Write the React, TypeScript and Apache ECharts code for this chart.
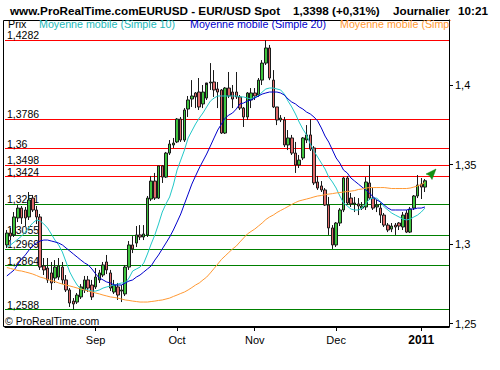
import React, { useEffect, useRef } from "react";
import * as echarts from "echarts";

const dates = [
  "2010-07-29", "2010-07-30",
  "2010-08-02", "2010-08-03", "2010-08-04", "2010-08-05", "2010-08-06",
  "2010-08-09", "2010-08-10", "2010-08-11", "2010-08-12", "2010-08-13",
  "2010-08-16", "2010-08-17", "2010-08-18", "2010-08-19", "2010-08-20",
  "2010-08-23", "2010-08-24", "2010-08-25", "2010-08-26", "2010-08-27",
  "2010-08-30", "2010-08-31",
  "2010-09-01", "2010-09-02", "2010-09-03",
  "2010-09-06", "2010-09-07", "2010-09-08", "2010-09-09", "2010-09-10",
  "2010-09-13", "2010-09-14", "2010-09-15", "2010-09-16", "2010-09-17",
  "2010-09-20", "2010-09-21", "2010-09-22", "2010-09-23", "2010-09-24",
  "2010-09-27", "2010-09-28", "2010-09-29", "2010-09-30",
  "2010-10-01",
  "2010-10-04", "2010-10-05", "2010-10-06", "2010-10-07", "2010-10-08",
  "2010-10-11", "2010-10-12", "2010-10-13", "2010-10-14", "2010-10-15",
  "2010-10-18", "2010-10-19", "2010-10-20", "2010-10-21", "2010-10-22",
  "2010-10-25", "2010-10-26", "2010-10-27", "2010-10-28", "2010-10-29",
  "2010-11-01", "2010-11-02", "2010-11-03", "2010-11-04", "2010-11-05",
  "2010-11-08", "2010-11-09", "2010-11-10", "2010-11-11", "2010-11-12",
  "2010-11-15", "2010-11-16", "2010-11-17", "2010-11-18", "2010-11-19",
  "2010-11-22", "2010-11-23", "2010-11-24", "2010-11-25", "2010-11-26",
  "2010-11-29", "2010-11-30",
  "2010-12-01", "2010-12-02", "2010-12-03",
  "2010-12-06", "2010-12-07", "2010-12-08", "2010-12-09", "2010-12-10",
  "2010-12-13", "2010-12-14", "2010-12-15", "2010-12-16", "2010-12-17",
  "2010-12-20", "2010-12-21", "2010-12-22", "2010-12-23", "2010-12-24",
  "2010-12-27", "2010-12-28", "2010-12-29", "2010-12-30", "2010-12-31",
  "2011-01-03", "2011-01-04",
];
// empty trading-day slots to the right of the last candle
const padDates = ["2011-01-05", "2011-01-06", "2011-01-07", "2011-01-10", "2011-01-11", "2011-01-12"];

const opens = [
  1.2994, 1.3069, 1.3057, 1.3164, 1.3226, 1.3214, 1.3170, 1.3289, 1.3214, 1.3170,
  1.2862, 1.2849, 1.2818, 1.2786, 1.2792, 1.2855, 1.2774, 1.2711, 1.2641, 1.2635,
  1.2667, 1.2711, 1.2774, 1.2742, 1.2730, 1.2774, 1.2805, 1.2887, 1.2818, 1.2698,
  1.2730, 1.2704, 1.2686, 1.2855, 1.2994, 1.3006, 1.3057, 1.3044, 1.3057, 1.3283,
  1.3396, 1.3289, 1.3491, 1.3421, 1.3572, 1.3623, 1.3642, 1.3786, 1.3654, 1.3849,
  1.3912, 1.3950, 1.3956, 1.3881, 1.3918, 1.4013, 1.4019, 1.3975, 1.3969, 1.3698,
  1.3981, 1.3956, 1.3956, 1.3925, 1.3855, 1.3799, 1.3906, 1.3950, 1.3937, 1.4031,
  1.4138, 1.4233, 1.4031, 1.3862, 1.3780, 1.3780, 1.3623, 1.3667, 1.3572, 1.3497,
  1.3541, 1.3654, 1.3686, 1.3604, 1.3390, 1.3365, 1.3340, 1.3245, 1.3101, 1.2994,
  1.3132, 1.3214, 1.3415, 1.3289, 1.3252, 1.3252, 1.3226, 1.3233, 1.3384, 1.3289,
  1.3233, 1.3226, 1.3182, 1.3119, 1.3094, 1.3119, 1.3132, 1.3107, 1.3195, 1.3075,
  1.3226, 1.3302, 1.3377, 1.3358,
];
const closes = [
  1.3069, 1.3050, 1.3170, 1.3226, 1.3164, 1.3164, 1.3277, 1.3214, 1.3170, 1.2855,
  1.2837, 1.2774, 1.2755, 1.2855, 1.2862, 1.2774, 1.2711, 1.2629, 1.2623, 1.2679,
  1.2730, 1.2774, 1.2723, 1.2667, 1.2792, 1.2818, 1.2868, 1.2837, 1.2723, 1.2742,
  1.2679, 1.2711, 1.2855, 1.2994, 1.2969, 1.3057, 1.3044, 1.3063, 1.3289, 1.3396,
  1.3289, 1.3491, 1.3421, 1.3572, 1.3629, 1.3635, 1.3786, 1.3654, 1.3843, 1.3906,
  1.3931, 1.3925, 1.3862, 1.3956, 1.4013, 1.4019, 1.3969, 1.3956, 1.3698, 1.3981,
  1.3931, 1.3912, 1.3925, 1.3855, 1.3799, 1.3950, 1.3950, 1.3931, 1.4031, 1.4138,
  1.4233, 1.4044, 1.3862, 1.3780, 1.3792, 1.3623, 1.3667, 1.3572, 1.3497, 1.3528,
  1.3667, 1.3686, 1.3597, 1.3384, 1.3352, 1.3340, 1.3245, 1.3101, 1.2994, 1.3132,
  1.3214, 1.3415, 1.3258, 1.3252, 1.3258, 1.3239, 1.3239, 1.3390, 1.3289, 1.3226,
  1.3245, 1.3182, 1.3119, 1.3088, 1.3113, 1.3107, 1.3113, 1.3182, 1.3075, 1.3220,
  1.3302, 1.3371, 1.3358, 1.3398,
];
const lows = [
  1.2975, 1.3025, 1.3044, 1.3138, 1.3126, 1.3113, 1.3151, 1.3201, 1.3126, 1.2837,
  1.2805, 1.2755, 1.2711, 1.2755, 1.2774, 1.2748, 1.2698, 1.2604, 1.2588, 1.2623,
  1.2654, 1.2692, 1.2698, 1.2648, 1.2717, 1.2755, 1.2792, 1.2811, 1.2704, 1.2686,
  1.2648, 1.2635, 1.2673, 1.2837, 1.2943, 1.2981, 1.3025, 1.3025, 1.3044, 1.3270,
  1.3277, 1.3283, 1.3384, 1.3415, 1.3560, 1.3604, 1.3635, 1.3642, 1.3642, 1.3799,
  1.3862, 1.3855, 1.3843, 1.3855, 1.3906, 1.3969, 1.3925, 1.3855, 1.3692, 1.3692,
  1.3918, 1.3855, 1.3912, 1.3843, 1.3736, 1.3780, 1.3855, 1.3906, 1.3925, 1.4000,
  1.4126, 1.4031, 1.3855, 1.3748, 1.3767, 1.3610, 1.3591, 1.3560, 1.3447, 1.3478,
  1.3528, 1.3635, 1.3585, 1.3371, 1.3340, 1.3327, 1.3239, 1.3057, 1.2969, 1.2981,
  1.3113, 1.3201, 1.3245, 1.3233, 1.3201, 1.3182, 1.3214, 1.3214, 1.3277, 1.3214,
  1.3201, 1.3132, 1.3107, 1.3075, 1.3075, 1.3057, 1.3088, 1.3088, 1.3069, 1.3069,
  1.3214, 1.3289, 1.3283, 1.3327,
];
const highs = [
  1.3088, 1.3101, 1.3201, 1.3245, 1.3239, 1.3233, 1.3327, 1.3308, 1.3239, 1.3189,
  1.2912, 1.2912, 1.2887, 1.2899, 1.2912, 1.2887, 1.2805, 1.2723, 1.2660, 1.2692,
  1.2748, 1.2799, 1.2799, 1.2774, 1.2849, 1.2837, 1.2887, 1.2931, 1.2837, 1.2774,
  1.2755, 1.2742, 1.2868, 1.3019, 1.3050, 1.3113, 1.3119, 1.3119, 1.3302, 1.3428,
  1.3447, 1.3491, 1.3497, 1.3579, 1.3654, 1.3667, 1.3792, 1.3799, 1.3855, 1.3931,
  1.4031, 1.3956, 1.4044, 1.4000, 1.4000, 1.4138, 1.4094, 1.4019, 1.3975, 1.3987,
  1.4082, 1.4000, 1.4082, 1.3937, 1.3862, 1.3956, 1.3981, 1.3981, 1.4044, 1.4157,
  1.4282, 1.4252, 1.4094, 1.3862, 1.3811, 1.3799, 1.3717, 1.3686, 1.3642, 1.3560,
  1.3673, 1.3748, 1.3786, 1.3616, 1.3428, 1.3396, 1.3352, 1.3296, 1.3119, 1.3138,
  1.3226, 1.3421, 1.3428, 1.3321, 1.3296, 1.3289, 1.3264, 1.3421, 1.3497, 1.3352,
  1.3277, 1.3258, 1.3195, 1.3132, 1.3132, 1.3132, 1.3138, 1.3201, 1.3214, 1.3233,
  1.3308, 1.3434, 1.3415, 1.3409,
];

const sma10 = [
  1.2981, 1.2994, 1.3013, 1.3031, 1.3050, 1.3075, 1.3107, 1.3132, 1.3151, 1.3145,
  1.3126, 1.3101, 1.3063, 1.3025, 1.2994, 1.2950, 1.2887, 1.2824, 1.2780, 1.2742,
  1.2717, 1.2711, 1.2711, 1.2704, 1.2704, 1.2711, 1.2723, 1.2730, 1.2736, 1.2742,
  1.2748, 1.2755, 1.2755, 1.2786, 1.2830, 1.2843, 1.2855, 1.2880, 1.2937, 1.3000,
  1.3057, 1.3126, 1.3201, 1.3252, 1.3296, 1.3371, 1.3465, 1.3528, 1.3591, 1.3667,
  1.3711, 1.3755, 1.3792, 1.3824, 1.3862, 1.3899, 1.3918, 1.3931, 1.3931, 1.3931,
  1.3931, 1.3931, 1.3931, 1.3925, 1.3925, 1.3918, 1.3912, 1.3925, 1.3931, 1.3956,
  1.3975, 1.3981, 1.3981, 1.3975, 1.3969, 1.3943, 1.3899, 1.3862, 1.3818, 1.3767,
  1.3723, 1.3686, 1.3629, 1.3585, 1.3547, 1.3509, 1.3472, 1.3421, 1.3390, 1.3352,
  1.3302, 1.3258, 1.3239, 1.3220, 1.3214, 1.3214, 1.3226, 1.3252, 1.3283, 1.3289,
  1.3289, 1.3264, 1.3233, 1.3214, 1.3195, 1.3182, 1.3170, 1.3157, 1.3151, 1.3157,
  1.3170, 1.3182, 1.3201, 1.3226,
];
const sma20 = [
  1.2799, 1.2818, 1.2837, 1.2874, 1.2906, 1.2931, 1.2962, 1.2987, 1.3006, 1.3019,
  1.3025, 1.3025, 1.3019, 1.3013, 1.3006, 1.2994, 1.2975, 1.2956, 1.2937, 1.2918,
  1.2899, 1.2881, 1.2868, 1.2843, 1.2812, 1.2786, 1.2774, 1.2761, 1.2755, 1.2742,
  1.2742, 1.2742, 1.2755, 1.2767, 1.2774, 1.2792, 1.2805, 1.2824, 1.2843, 1.2862,
  1.2899, 1.2931, 1.2969, 1.3006, 1.3044, 1.3088, 1.3138, 1.3189, 1.3252, 1.3314,
  1.3377, 1.3428, 1.3478, 1.3522, 1.3566, 1.3616, 1.3667, 1.3717, 1.3755, 1.3792,
  1.3811, 1.3824, 1.3849, 1.3881, 1.3887, 1.3899, 1.3906, 1.3918, 1.3931, 1.3943,
  1.3950, 1.3956, 1.3956, 1.3956, 1.3950, 1.3937, 1.3912, 1.3893, 1.3881, 1.3862,
  1.3849, 1.3830, 1.3818, 1.3799, 1.3774, 1.3730, 1.3679, 1.3641, 1.3591, 1.3541,
  1.3509, 1.3465, 1.3447, 1.3415, 1.3396, 1.3377, 1.3358, 1.3340, 1.3321, 1.3296,
  1.3277, 1.3264, 1.3245, 1.3226, 1.3214, 1.3214, 1.3214, 1.3214, 1.3214, 1.3220,
  1.3220, 1.3226, 1.3226, 1.3233,
];
const smaLong = [
  1.2852, 1.2846, 1.2840, 1.2833, 1.2830, 1.2824, 1.2818, 1.2811, 1.2802, 1.2792,
  1.2786, 1.2777, 1.2770, 1.2764, 1.2755, 1.2748, 1.2742, 1.2736, 1.2730, 1.2723,
  1.2717, 1.2711, 1.2704, 1.2698, 1.2692, 1.2686, 1.2679, 1.2673, 1.2667, 1.2664,
  1.2660, 1.2654, 1.2648, 1.2645, 1.2641, 1.2638, 1.2635, 1.2635, 1.2635, 1.2638,
  1.2641, 1.2645, 1.2648, 1.2654, 1.2660, 1.2670, 1.2679, 1.2689, 1.2698, 1.2711,
  1.2726, 1.2742, 1.2755, 1.2774, 1.2792, 1.2818, 1.2846, 1.2874, 1.2903, 1.2925,
  1.2947, 1.2969, 1.2987, 1.3013, 1.3038, 1.3063, 1.3079, 1.3094, 1.3113, 1.3132,
  1.3154, 1.3170, 1.3182, 1.3198, 1.3211, 1.3223, 1.3236, 1.3249, 1.3261, 1.3271,
  1.3277, 1.3283, 1.3289, 1.3296, 1.3302, 1.3305, 1.3311, 1.3314, 1.3317, 1.3321,
  1.3324, 1.3327, 1.3330, 1.3333, 1.3336, 1.3343, 1.3346, 1.3352, 1.3355, 1.3355,
  1.3355, 1.3355, 1.3355, 1.3352, 1.3349, 1.3349, 1.3349, 1.3349, 1.3349, 1.3352,
  1.3358, 1.3365, 1.3374, 1.3387,
];

const resistanceLevels = [1.4282, 1.3786, 1.36, 1.3498, 1.3424];
const supportLevels = [1.3251, 1.3055, 1.2969, 1.2864, 1.2588];

const yTicks = [1.25, 1.3, 1.35, 1.4];
const yMin = 1.2478;
const yMax = 1.4409;

const tickDates = ["2010-09-01", "2010-10-01", "2010-11-01", "2010-12-01", "2011-01-03"];
const tickLabels = ["Sep", "Oct", "Nov", "Dec", "2011"];

const headerTitle = "www.ProRealTime.comEURUSD - EUR/USD Spot";
const headerPrice = "1,3398 (+0,31%)";
const headerPeriod = "Journalier";
const headerTime = "10:21";
const legendNames = ["Prix", "Moyenne mobile (Simple 10)", "Moyenne mobile (Simple 20)", "Moyenne mobile (Simple 100)"];

const FONT = "'Liberation Sans', Arial, Helvetica, sans-serif";
const comma = (v: number) => String(v).replace(".", ",");

export default function App() {
  const ref = useRef<HTMLDivElement>(null);

  useEffect(() => {
    if (!ref.current) return;
    const chart = echarts.init(ref.current, null, { renderer: "svg" });
    const cats = dates.concat(padDates);
    const candles = dates.map((_, i) => [opens[i], closes[i], lows[i], highs[i]]);
    const tickSet = new Set(tickDates);
    const showTick = (_i: number, v: string) => tickSet.has(v);

    const levelLabel = (v: number) => ({
      show: true,
      position: "insideStartTop",
      distance: [2, 0],
      formatter: comma(v),
      color: "#000",
      fontSize: 10.5,
      lineHeight: 10,
      fontFamily: FONT,
    });
    const levelData = [
      ...resistanceLevels.map((v) => ({ yAxis: v, lineStyle: { color: "#ff0000", width: 1, type: "solid" }, label: levelLabel(v) })),
      ...supportLevels.map((v) => ({ yAxis: v, lineStyle: { color: "#008000", width: 1, type: "solid" }, label: levelLabel(v) })),
    ];

    const lineSeries = (data: number[], color: string, name: string) => ({
      type: "line",
      name,
      data,
      symbol: "none",
      showSymbol: false,
      smooth: false,
      lineStyle: { color, width: 1 },
      itemStyle: { color },
      z: 4,
      silent: true,
    });

    const txt = (text: string, x: number, y: number, fill: string, font: string, extra: any = {}) => ({
      type: "text",
      x,
      y,
      z: 100,
      silent: true,
      style: { text, fill, font, align: "left", verticalAlign: "middle", ...extra },
    });

    chart.setOption({
      animation: false,
      backgroundColor: "#ffffff",
      textStyle: { fontFamily: FONT },
      grid: { left: 5, right: 51, top: 20, bottom: 43, containLabel: false },
      xAxis: {
        type: "category",
        data: cats,
        boundaryGap: true,
        axisLine: { show: true, lineStyle: { color: "#000", width: 1 } },
        axisTick: { show: true, alignWithLabel: true, length: 4, interval: showTick, lineStyle: { color: "#000" } },
        axisLabel: {
          interval: showTick,
          color: "#000",
          fontSize: 11,
          fontFamily: FONT,
          margin: 7,
          formatter: (v: string) => {
            const k = tickDates.indexOf(v);
            if (k < 0) return "";
            return tickLabels[k] === "2011" ? "{b|" + tickLabels[k] + "}" : tickLabels[k];
          },
          rich: { b: { fontWeight: "bold", fontSize: 12, color: "#000", fontFamily: FONT } },
        },
        splitLine: { show: false },
      },
      yAxis: {
        type: "value",
        position: "right",
        min: yMin,
        max: yMax,
        axisLine: { show: true, lineStyle: { color: "#000", width: 1 } },
        axisTick: { show: true, length: 4, customValues: yTicks, lineStyle: { color: "#000" } },
        axisLabel: {
          show: true,
          customValues: yTicks,
          formatter: (v: number) => comma(v),
          color: "#000",
          fontSize: 11,
          fontFamily: FONT,
          margin: 6,
        },
        splitLine: { show: false },
      },
      series: [
        {
          type: "candlestick",
          name: legendNames[0],
          data: candles,
          barWidth: 3,
          z: 3,
          silent: true,
          itemStyle: {
            color: "#3ec43e",
            color0: "#e06a6a",
            borderColor: "#1a1a1a",
            borderColor0: "#1a1a1a",
            borderWidth: 1,
          },
          markLine: {
            silent: true,
            symbol: ["none", "none"],
            precision: 4,
            animation: false,
            z: 2,
            data: levelData,
          },
        },
        lineSeries(sma10, "#22c8c8", legendNames[1]),
        lineSeries(sma20, "#0000cc", legendNames[2]),
        lineSeries(smaLong, "#ff9933", legendNames[3]),
      ],
      graphic: [
        {
          type: "rect",
          z: 90,
          silent: true,
          shape: { x: 3.5, y: 20.5, width: 446, height: 306 },
          style: { fill: "none", stroke: "#000", lineWidth: 1 },
        },
        txt(headerTitle, 10, 10, "#000", "bold 11.7px " + FONT),
        txt(headerPrice, 293, 10, "#000", "bold 11.7px " + FONT),
        txt(headerPeriod, 393, 10, "#000", "bold 11.7px " + FONT),
        txt(headerTime, 458, 10, "#000", "bold 11.7px " + FONT),
        txt(legendNames[0], 8, 24, "#000", "10.7px " + FONT, { lineHeight: 10 }),
        txt(legendNames[1], 39, 24, "#22b8b8", "10.7px " + FONT, { lineHeight: 10 }),
        txt(legendNames[2], 190, 24, "#0000cc", "10.7px " + FONT, { lineHeight: 10 }),
        txt(legendNames[3], 340, 24, "#ff9933", "10.7px " + FONT, { lineHeight: 10, width: 118, overflow: "truncate", ellipsis: "" }),
        {
          type: "rect",
          z: 101,
          silent: true,
          shape: { x: 450, y: 21, width: 50, height: 10 },
          style: { fill: "#ffffff" },
        },
        txt("\u00a9 ProRealTime.com", 5, 321, "#000", "10.5px " + FONT),
        {
          type: "polygon",
          z: 95,
          silent: true,
          shape: { points: [[436, 169], [426, 174], [429.5, 175.5], [432, 179.5]] },
          style: { fill: "#129212", stroke: "#0a7a0a", lineWidth: 0.5 },
        },
      ],
    });

    return () => chart.dispose();
  }, []);

  return (
    <div
      ref={ref}
      style={{ position: "absolute", left: 0, top: 0, width: 500, height: 370, background: "#fff" }}
    />
  );
}
